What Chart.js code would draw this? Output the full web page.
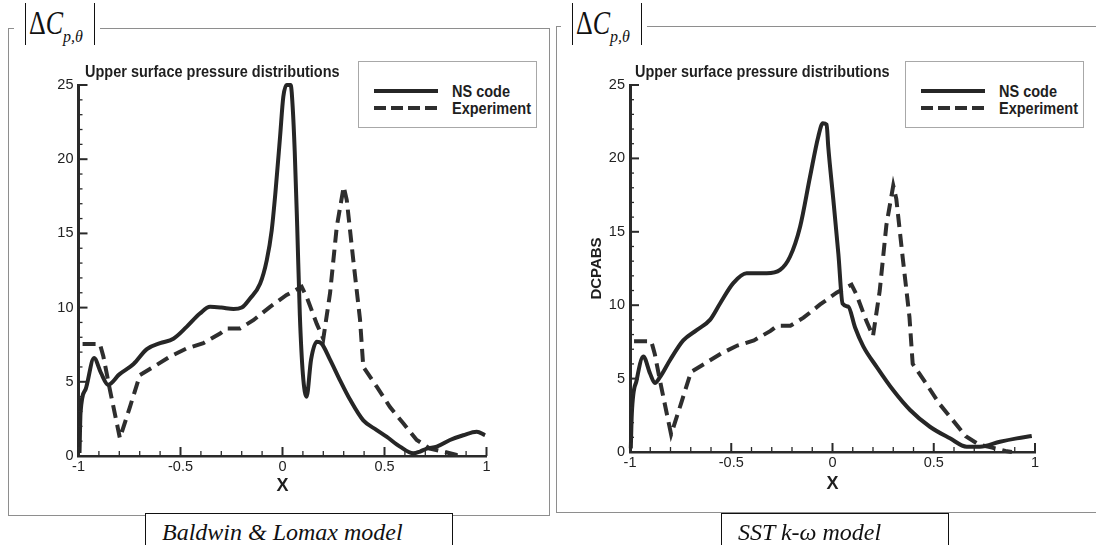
<!DOCTYPE html>
<html><head><meta charset="utf-8">
<script src="https://cdn.jsdelivr.net/npm/chart.js@4.4.1/dist/chart.umd.min.js"></script>
<style>
html,body{margin:0;padding:0;background:#fff;}
#wrap{position:relative;width:1096px;height:545px;overflow:hidden;background:#fff;font-family:'Liberation Sans',Arial,sans-serif;color:#222;}
canvas{position:absolute;top:0;}
.frame{position:absolute;border:1px solid #8e8e8e;box-sizing:border-box;}
.lab{position:absolute;top:0;width:86px;height:50px;background:#fff;}
.bars{position:absolute;top:3px;height:42px;width:69.5px;left:11px;box-sizing:border-box;border-left:1.5px solid #111;border-right:1.5px solid #111;}
.dc{position:absolute;left:15px;top:13.2px;font-family:'Liberation Serif','Times New Roman',serif;font-size:26px;line-height:26px;color:#111;transform:scaleY(1.3);transform-origin:0 21.8px;white-space:nowrap;}
.sub{position:absolute;left:49px;top:28.6px;font-family:'Liberation Serif','Times New Roman',serif;font-style:italic;font-size:16px;line-height:16px;color:#111;white-space:nowrap;}
.title{position:absolute;top:65px;font-weight:bold;font-size:14.5px;line-height:14.5px;white-space:nowrap;color:#1e1e1e;transform:scaleY(1.08);transform-origin:0 50%;}
.legend{position:absolute;top:61px;width:179px;height:67px;border:1px solid #a8a8a8;box-sizing:border-box;background:#fff;}
.legend svg{position:absolute;left:0;top:0;}
.legend span{position:absolute;left:93px;font-weight:bold;font-size:14.5px;line-height:14.5px;white-space:nowrap;color:#1e1e1e;transform:scaleY(1.15);transform-origin:0 50%;}
.cap{position:absolute;top:513px;height:45px;border:1.5px solid #111;box-sizing:border-box;background:#fff;}
.cap span{position:absolute;top:5.5px;left:16px;font-family:'Liberation Serif','Times New Roman',serif;font-style:italic;font-size:24px;line-height:24px;white-space:nowrap;color:#111;}
</style></head>
<body>
<div id="wrap">
  <div class="frame" style="left:8px;top:28px;width:542px;height:488px;"></div>
  <div class="frame" style="left:556px;top:26px;width:560px;height:487px;"></div>
  <canvas id="c1" width="548" height="545" style="left:0;width:548px;height:545px;"></canvas>
  <canvas id="c2" width="548" height="545" style="left:548px;width:548px;height:545px;"></canvas>

  <div class="lab" style="left:14px;"><div class="bars"></div><span class="dc">Δ<i>C</i></span><span class="sub">p,θ</span></div>
  <div class="lab" style="left:561px;"><div class="bars"></div><span class="dc">Δ<i>C</i></span><span class="sub">p,θ</span></div>

  <div class="title" style="left:85px;">Upper surface pressure distributions</div>
  <div class="title" style="left:635px;">Upper surface pressure distributions</div>

  <div class="legend" style="left:358px;">
    <svg width="179" height="67"><line x1="15" y1="29" x2="79" y2="29" stroke="#262626" stroke-width="4"/><line x1="15" y1="46" x2="79" y2="46" stroke="#2e2e2e" stroke-width="4" stroke-dasharray="12,5"/></svg>
    <span style="top:21.7px;">NS code</span><span style="top:38.7px;">Experiment</span>
  </div>
  <div class="legend" style="left:905px;">
    <svg width="179" height="67"><line x1="15" y1="29" x2="79" y2="29" stroke="#262626" stroke-width="4"/><line x1="15" y1="46" x2="79" y2="46" stroke="#2e2e2e" stroke-width="4" stroke-dasharray="12,5"/></svg>
    <span style="top:21.7px;">NS code</span><span style="top:38.7px;">Experiment</span>
  </div>

  <div class="cap" style="left:145px;width:308px;"><span>Baldwin &amp; Lomax model</span></div>
  <div class="cap" style="left:721px;width:228px;"><span>SST k-ω model</span></div>
</div>
<script>
// Experiment (same in both panels)
const expX = [-0.98,-0.895,-0.878,-0.846,-0.797,-0.748,-0.699,-0.633,-0.551,-0.47,-0.388,-0.306,-0.273,-0.208,-0.143,-0.061,0.02,0.094,0.119,0.168,0.2,0.233,0.266,0.3,0.315,0.347,0.38,0.396,0.462,0.527,0.592,0.658,0.723,0.788,0.854,0.886];
const expY = [7.55,7.55,6.7,4.45,1.2,3.3,5.45,6.0,6.7,7.25,7.6,8.25,8.6,8.6,9.15,10.05,10.85,11.4,10.7,8.9,7.9,10.96,15.45,18.15,17.25,13.2,9.2,6.0,4.67,3.3,2.2,1.08,0.5,0.3,0.07,0.0];
// NS code, Baldwin & Lomax
const nsBLX = [-0.995,-0.99,-0.965,-0.924,-0.89,-0.855,-0.8,-0.73,-0.665,-0.6,-0.535,-0.47,-0.405,-0.355,-0.3,-0.24,-0.2,-0.16,-0.11,-0.077,-0.053,-0.035,-0.012,0.004,0.02,0.04,0.05,0.06,0.072,0.085,0.1,0.118,0.14,0.168,0.19,0.233,0.282,0.331,0.396,0.462,0.51,0.576,0.641,0.674,0.707,0.756,0.821,0.886,0.952,0.993];
const nsBLY = [0.2,2.9,4.5,6.6,5.6,4.8,5.5,6.2,7.2,7.6,7.9,8.7,9.6,10.05,10.0,9.9,10.0,10.6,11.6,13.2,15.2,17.7,21.5,24.2,25.0,25.0,23.5,20.5,15.5,9.5,5.5,4.0,6.5,7.7,7.6,6.5,5.1,3.8,2.4,1.75,1.3,0.63,0.18,0.3,0.5,0.63,1.08,1.4,1.64,1.4];
// NS code, SST k-omega
const nsSSTX = [-0.996,-0.991,-0.967,-0.934,-0.901,-0.877,-0.852,-0.802,-0.737,-0.671,-0.605,-0.556,-0.49,-0.424,-0.325,-0.259,-0.21,-0.16,-0.111,-0.07,-0.048,-0.029,-0.021,0.004,0.029,0.05,0.078,0.111,0.152,0.218,0.3,0.383,0.481,0.58,0.663,0.728,0.827,0.91,0.984];
const nsSSTY = [0.25,2.6,4.9,6.5,5.35,4.7,5.1,6.27,7.6,8.3,9.0,10.1,11.5,12.17,12.17,12.4,13.3,15.35,18.75,21.5,22.4,22.3,20.8,17.2,13.5,10.1,9.9,8.5,7.2,5.8,4.2,2.86,1.72,0.93,0.36,0.36,0.7,0.93,1.09];
// axis ranges and ticks
const xRange = [-1, 1], xMajor = 0.5, xMinor = 0.1;
const yRange = [0, 25], yMajor = 5, yMinor = 1;

Chart.defaults.font.family = "'Liberation Sans', Arial, sans-serif";
Chart.defaults.color = '#222';

function pts(xs, ys){ return xs.map((x, i) => ({x: x, y: ys[i]})); }
function fmt(v){ return String(Math.round(v * 100) / 100); }

const innerTicks = {
  id: 'innerTicks',
  afterDraw(chart){
    const ctx = chart.ctx, xs = chart.scales.x, ys = chart.scales.y;
    ctx.save();
    ctx.strokeStyle = '#2a2a2a';
    const nx = Math.round((xRange[1]-xRange[0])/xMinor);
    for (let i = 0; i <= nx; i++) {
      const v = xRange[0] + i*xMinor;
      const major = i % Math.round(xMajor/xMinor) === 0;
      const px = xs.getPixelForValue(v);
      ctx.lineWidth = major ? 2 : 1.3;
      ctx.beginPath(); ctx.moveTo(px, ys.bottom); ctx.lineTo(px, ys.bottom - (major ? 9 : 5)); ctx.stroke();
    }
    const ny = Math.round((yRange[1]-yRange[0])/yMinor);
    for (let j = 0; j <= ny; j++) {
      const v = yRange[0] + j*yMinor;
      const major = j % Math.round(yMajor/yMinor) === 0;
      const py = ys.getPixelForValue(v);
      ctx.lineWidth = major ? 2 : 1.3;
      ctx.beginPath(); ctx.moveTo(xs.left, py); ctx.lineTo(xs.left + (major ? 9 : 4), py); ctx.stroke();
    }
    ctx.restore();
  }
};

function makeChart(id, nsX, nsY, pad, yW, xH, yTitle){
  return new Chart(document.getElementById(id), {
    type: 'line',
    data: { datasets: [
      { label: 'NS code', data: pts(nsX, nsY), borderColor: '#262626', borderWidth: 4, pointRadius: 0,
        cubicInterpolationMode: 'monotone', fill: false, clip: false },
      { label: 'Experiment', data: pts(expX, expY), borderColor: '#2e2e2e', borderWidth: 4, pointRadius: 0,
        borderDash: [13, 7], tension: 0, fill: false, clip: false }
    ]},
    options: {
      responsive: false, animation: false, devicePixelRatio: 1,
      layout: { padding: pad },
      plugins: { legend: { display: false }, tooltip: { enabled: false }, title: { display: false } },
      scales: {
        x: { type: 'linear', min: xRange[0], max: xRange[1],
             grid: { display: false, drawTicks: false },
             border: { display: true, width: 2.5, color: '#2a2a2a' },
             ticks: { stepSize: xMajor, padding: 2.5, maxRotation: 0, autoSkip: false, color: '#222', font: { size: 14.5 }, callback: fmt },
             title: { display: true, text: 'X', padding: 0, color: '#1e1e1e', font: { size: 18, weight: 'bold' } },
             afterFit(s){ s.height = xH; } },
        y: { type: 'linear', min: yRange[0], max: yRange[1],
             grid: { display: false, drawTicks: false },
             border: { display: true, width: 3, color: '#2a2a2a' },
             ticks: { stepSize: yMajor, padding: 5, color: '#222', font: { size: 14.5 }, callback: fmt },
             title: { display: !!yTitle, text: yTitle || '', padding: 0, color: '#1e1e1e', font: { size: 15, weight: 'bold' } },
             afterFit(s){ s.width = yW; } }
      }
    },
    plugins: [innerTicks]
  });
}

makeChart('c1', nsBLX, nsBLY, {left: 30, top: 85, right: 61.5, bottom: 48}, 48.5, 41, null);
makeChart('c2', nsSSTX, nsSSTY, {left: 40, top: 85, right: 61, bottom: 50}, 42, 43, 'DCPABS');
</script>
</body></html>
